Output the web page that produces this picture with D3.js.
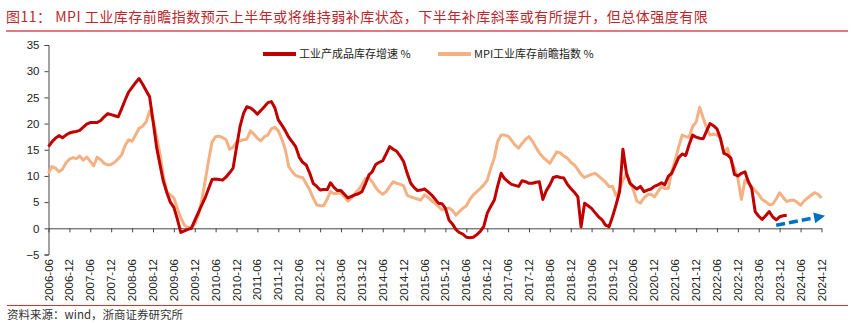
<!DOCTYPE html>
<html>
<head>
<meta charset="utf-8">
<script src="https://cdn.jsdelivr.net/npm/d3@7"></script>
<style>
  body { margin: 0; background: #fff; }
  svg { display: block; }
</style>
</head>
<body>
<svg id="chart" width="853" height="323"></svg>
<script>
const title = '图11：  MPI 工业库存前瞻指数预示上半年或将维持弱补库状态，下半年补库斜率或有所提升，但总体强度有限';
const source = '资料来源：wind，浙商证券研究所';

// monthly, first value = 2006-06
const startMonth = '2006-06';
const lastTick = '2024-12';

// 工业产成品库存增速 %
const inventoryGrowth = [
  15.6, 16.5, 17.2, 17.7, 17.3, 17.8, 18.2,                         // 2006
  18.4, 18.5, 18.7, 19.3, 19.9, 20.2, 20.2, 20.2, 20.6, 21.3, 21.9, 21.7, // 2007
  21.5, 21.3, 22.8, 24.5, 26.0, 26.9, 27.8, 28.6, 27.5, 26.3, 25.1, 20.5, // 2008
  15.5, 12.0, 9.0, 6.8, 5.0, 4.0, 1.8, -0.8, -0.5, -0.2, 0.0, 1.5,        // 2009
  3.0, 4.5, 5.8, 7.6, 9.3, 9.4, 9.3, 9.2, 9.8, 10.6, 11.5, 15.5,         // 2010
  19.5, 22.0, 23.2, 23.0, 22.5, 21.8, 22.5, 23.2, 24.0, 24.2, 23.0, 20.7, // 2011
  19.7, 18.6, 17.4, 16.5, 15.6, 13.6, 12.6, 12.1, 10.5, 8.6, 8.0, 7.3,   // 2012
  7.4, 7.4, 8.7, 7.8, 7.2, 7.2, 6.5, 5.8, 6.1, 6.4, 6.6, 7.0,            // 2013
  8.5, 10.2, 10.8, 12.2, 12.6, 12.9, 14.2, 15.6, 15.1, 14.7, 13.8, 12.7, // 2014
  10.5, 8.6, 7.8, 7.2, 7.3, 7.5, 7.0, 6.4, 5.6, 4.8, 4.7, 3.8,           // 2015
  1.6, 0.8, -0.2, -0.8, -1.1, -1.7, -1.8, -1.7, -1.2, -0.6, 0.4, 2.9,    // 2016
  4.2, 5.4, 8.0, 10.5, 9.5, 8.9, 8.4, 8.2, 8.0, 9.1, 8.9, 8.6,           // 2017
  8.6, 8.8, 8.9, 5.5, 7.2, 8.3, 9.7, 9.9, 9.7, 9.6, 8.4, 7.6,            // 2018
  6.9, 6.0, 0.3, 4.8, 4.3, 3.8, 3.0, 2.2, 1.6, 0.6, 0.3, 2.2,            // 2019
  4.5, 7.0, 15.1, 10.5, 8.6, 8.0, 7.5, 8.0, 7.0, 7.3, 7.5, 8.0,          // 2020
  8.3, 8.7, 8.3, 9.9, 10.5, 12.0, 13.5, 14.2, 13.9, 16.0, 17.8, 17.4,    // 2021
  17.2, 17.1, 18.5, 20.0, 19.6, 19.0, 17.2, 14.3, 14.0, 13.4, 10.3, 10.0, // 2022
  10.5, 10.8, 9.0, 7.6, 3.2, 2.3, 1.7, 2.4, 3.2, 2.2, 1.6, 2.2,          // 2023
  2.4, 2.5                                                              // 2024
];

// MPI工业库存前瞻指数 %
const mpiIndex = [
  10.5, 11.8, 11.5, 10.8, 11.3, 12.5, 13.2,                             // 2006
  13.5, 13.3, 13.8, 13.0, 13.6, 12.8, 11.9, 13.6, 13.1, 12.4, 12.1, 12.2, // 2007
  12.6, 13.3, 14.0, 15.8, 16.9, 16.6, 17.8, 19.1, 19.5, 20.3, 22.4, 20.7, // 2008
  17.5, 14.0, 10.0, 7.0, 6.4, 5.8, 3.8, 2.0, 0.6, 0.2, 0.2, 0.8,         // 2009
  2.5, 5.5, 9.0, 13.0, 16.5, 17.5, 17.6, 17.3, 16.9, 15.1, 15.5, 16.5,   // 2010
  16.7, 16.9, 17.0, 18.6, 18.0, 17.2, 16.7, 17.5, 17.8, 19.0, 19.3, 18.6, // 2011
  17.0, 15.0, 11.8, 10.8, 10.1, 9.8, 9.7, 8.5, 7.3, 5.8, 4.5, 4.3,       // 2012
  4.3, 5.6, 7.0, 6.6, 6.7, 6.7, 6.0, 5.2, 5.8, 6.6, 7.4, 8.3,            // 2013
  9.5, 9.6, 8.9, 7.8, 7.0, 6.5, 7.0, 8.0, 8.9, 8.6, 8.4, 8.1,            // 2014
  6.3, 6.0, 5.8, 5.6, 5.4, 6.4, 5.9, 5.3, 4.8, 4.2, 3.5, 3.7,            // 2015
  3.9, 3.4, 2.5, 3.2, 3.8, 4.3, 5.5, 6.4, 7.0, 7.6, 8.3, 9.2,            // 2016
  11.5, 13.5, 16.5, 17.8, 17.8, 17.6, 16.8, 15.9, 15.3, 16.2, 17.0, 17.5, // 2017
  16.6, 15.4, 14.4, 13.6, 13.0, 12.4, 13.5, 14.6, 14.4, 13.8, 13.4, 12.6, // 2018
  12.1, 11.2, 10.3, 9.7, 10.0, 10.3, 10.5, 10.0, 9.4, 8.8, 8.0, 8.0,     // 2019
  6.2, 7.5, 9.2, 10.5, 9.0, 7.3, 5.2, 4.8, 5.8, 6.4, 6.5, 6.0,           // 2020
  7.0, 8.0, 7.6, 7.6, 10.8, 13.0, 15.5, 17.8, 17.5, 17.4, 19.5, 20.3,    // 2021
  23.1, 21.0, 19.3, 17.8, 18.0, 17.8, 17.2, 14.3, 15.3, 13.0, 11.5, 9.5, // 2022
  5.5, 9.2, 8.6, 8.0, 7.2, 6.5, 5.5, 5.1, 4.5, 4.6, 5.6, 6.8,            // 2023
  5.9, 5.1, 5.3, 5.4, 5.0, 4.4, 5.2, 5.8, 6.3, 6.8, 6.5, 5.8             // 2024
];

const yTicks = [-5, 0, 5, 10, 15, 20, 25, 30, 35];
const legendNames = ['工业产成品库存增速 %', 'MPI工业库存前瞻指数 %'];
const lineColors = ['#c00000', '#f4b183'];

// blue dashed trend arrow
const arrowFrom = ['2023-11', 0.6];
const arrowTo = ['2025-01', 2.4];

const parseMonth = d3.timeParse('%Y-%m');
const start = parseMonth(startMonth);
const toSeries = (vals) => vals.map((v, i) => ({ date: d3.timeMonth.offset(start, i), value: v }));
const series = [toSeries(inventoryGrowth), toSeries(mpiIndex)];

const svg = d3.select('#chart');
svg.append('rect').attr('width', 853).attr('height', 323).attr('fill', '#fff');

const x = d3.scaleTime().domain([start, parseMonth(lastTick)]).range([48.5, 821.5]);
const y = d3.scaleLinear().domain([-5, 35]).range([254.5, 45]);

// title
svg.append('text')
  .attr('x', 6).attr('y', 22)
  .attr('fill', '#b8282e')
  .style('font-family', '"Noto Sans CJK SC", sans-serif')
  .style('font-size', '14px')
  .style('letter-spacing', '0.5px')
  .text(title);
svg.append('line')
  .attr('x1', 6).attr('x2', 848).attr('y1', 31).attr('y2', 31)
  .attr('stroke', '#e07a80').attr('stroke-width', 2);

// y axis
const yAxis = svg.append('g')
  .attr('transform', 'translate(48.5,0)')
  .call(d3.axisLeft(y).tickValues(yTicks).tickSize(4).tickPadding(5));
yAxis.selectAll('text')
  .style('font-family', 'Arial, "Liberation Sans", sans-serif')
  .style('font-size', '11.5px')
  .attr('fill', '#222');
yAxis.selectAll('line, path').attr('stroke', '#444');

// x axis at zero
const tickDates = d3.range(0, 223, 6).map(i => d3.timeMonth.offset(start, i));
const xAxis = svg.append('g')
  .attr('transform', `translate(0,${y(0)})`)
  .call(d3.axisBottom(x).tickValues(tickDates).tickSize(4).tickSizeOuter(0).tickFormat(''));
xAxis.selectAll('line, path').attr('stroke', '#444');

// x labels at bottom
svg.append('g')
  .selectAll('text')
  .data(tickDates)
  .join('text')
  .attr('transform', d => `translate(${x(d)},259) rotate(-90)`)
  .attr('text-anchor', 'end')
  .attr('dy', '0.35em')
  .style('font-family', 'Arial, "Liberation Sans", sans-serif')
  .style('font-size', '11.5px')
  .attr('fill', '#222')
  .text(d => d3.timeFormat('%Y-%m')(d));

// lines
const line = d3.line().x(d => x(d.date)).y(d => y(d.value));
svg.append('g')
  .selectAll('path')
  .data([series[1], series[0]])
  .join('path')
  .attr('d', line)
  .attr('fill', 'none')
  .attr('stroke', (d, i) => i === 0 ? lineColors[1] : lineColors[0])
  .attr('stroke-width', 3)
  .attr('stroke-linejoin', 'round');

// arrow
const ax1 = x(parseMonth(arrowFrom[0])), ay1 = y(arrowFrom[1]);
const ax2 = x(parseMonth(arrowTo[0])), ay2 = y(arrowTo[1]);
const ang = Math.atan2(ay2 - ay1, ax2 - ax1);
const headLen = 11, headW = 5.5;
const bx = ax2 - headLen * Math.cos(ang), by = ay2 - headLen * Math.sin(ang);
svg.append('line')
  .attr('x1', ax1).attr('y1', ay1).attr('x2', bx).attr('y2', by)
  .attr('stroke', '#0070c0').attr('stroke-width', 3.5)
  .attr('stroke-dasharray', '9,4');
svg.append('polygon')
  .attr('points', [
    [ax2, ay2],
    [bx - headW * Math.sin(ang), by + headW * Math.cos(ang)],
    [bx + headW * Math.sin(ang), by - headW * Math.cos(ang)]
  ].map(p => p.join(',')).join(' '))
  .attr('fill', '#0070c0');

// legend
const legend = svg.append('g').selectAll('g')
  .data(legendNames)
  .join('g')
  .attr('transform', (d, i) => `translate(${i === 0 ? 263 : 438},54)`);
legend.append('line')
  .attr('x1', 0).attr('x2', 33)
  .attr('stroke', (d, i) => lineColors[i])
  .attr('stroke-width', 4);
legend.append('text')
  .attr('x', 36).attr('dy', '0.35em')
  .style('font-family', '"Noto Sans CJK SC", sans-serif')
  .style('font-size', '11px')
  .attr('fill', '#222')
  .text(d => d);

// source
svg.append('line')
  .attr('x1', 7).attr('x2', 848).attr('y1', 305.5).attr('y2', 305.5)
  .attr('stroke', '#e0302e').attr('stroke-width', 1);
svg.append('text')
  .attr('x', 7).attr('y', 319)
  .style('font-family', '"Noto Sans CJK SC", sans-serif')
  .style('font-size', '11.5px')
  .attr('fill', '#333')
  .text(source);
</script>
</body>
</html>
